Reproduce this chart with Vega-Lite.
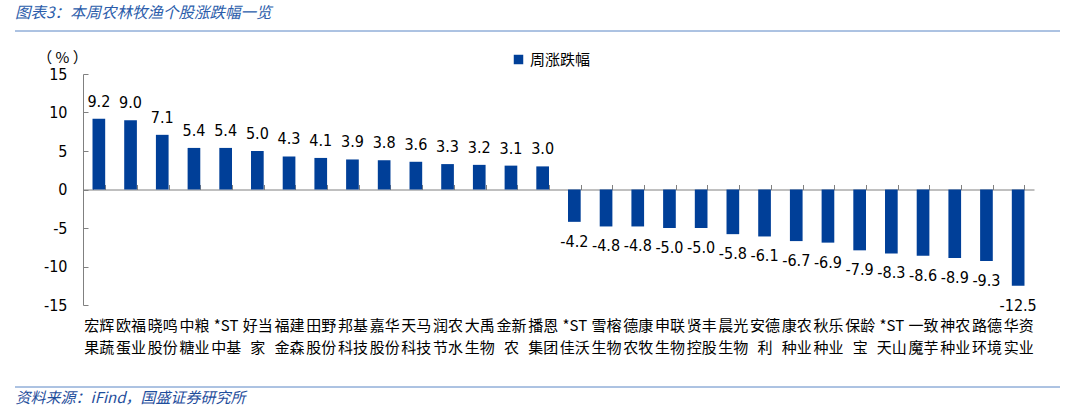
{
  "$schema": "https://vega.github.io/schema/vega-lite/v6.json",
  "width": 951,
  "height": 231,
  "autosize": "none",
  "padding": {"left": 83, "top": 74, "right": 31, "bottom": 107},
  "background": "white",
  "config": {
    "view": {"stroke": null},
    "locale": {
      "number": {"decimal": ".", "thousands": ",", "grouping": [3], "currency": ["", ""], "minus": "-"}
    }
  },
  "title": {
    "text": "图表3：本周农林牧渔个股涨跌幅一览",
    "anchor": "start",
    "frame": "group",
    "dx": -68,
    "offset": 9,
    "fontSize": 15.5,
    "fontStyle": "italic",
    "fontWeight": "normal",
    "color": "#2a5caa",
    "font": "Noto Sans CJK SC"
  },
  "datasets": {
    "stocks": [
      {"name": "宏辉\n果蔬", "value": 9.2},
      {"name": "欧福\n蛋业", "value": 9.0},
      {"name": "晓鸣\n股份", "value": 7.1},
      {"name": "中粮\n糖业", "value": 5.4},
      {"name": "*ST\n中基", "value": 5.4},
      {"name": "好当\n家", "value": 5.0},
      {"name": "福建\n金森", "value": 4.3},
      {"name": "田野\n股份", "value": 4.1},
      {"name": "邦基\n科技", "value": 3.9},
      {"name": "嘉华\n股份", "value": 3.8},
      {"name": "天马\n科技", "value": 3.6},
      {"name": "润农\n节水", "value": 3.3},
      {"name": "大禹\n生物", "value": 3.2},
      {"name": "金新\n农", "value": 3.1},
      {"name": "播恩\n集团", "value": 3.0},
      {"name": "*ST\n佳沃", "value": -4.2},
      {"name": "雪榕\n生物", "value": -4.8},
      {"name": "德康\n农牧", "value": -4.8},
      {"name": "申联\n生物", "value": -5.0},
      {"name": "贤丰\n控股", "value": -5.0},
      {"name": "晨光\n生物", "value": -5.8},
      {"name": "安德\n利", "value": -6.1},
      {"name": "康农\n种业", "value": -6.7},
      {"name": "秋乐\n种业", "value": -6.9},
      {"name": "保龄\n宝", "value": -7.9},
      {"name": "*ST\n天山", "value": -8.3},
      {"name": "一致\n魔芋", "value": -8.6},
      {"name": "神农\n种业", "value": -8.9},
      {"name": "路德\n环境", "value": -9.3},
      {"name": "华资\n实业", "value": -12.5}
    ],
    "frame": [
      {"pos": "top", "a": 0, "b": 1},
      {"pos": "bottom", "a": 0, "b": 1}
    ]
  },
  "resolve": {
    "scale": {"x": "independent", "y": "independent", "color": "independent"},
    "axis": {"x": "independent", "y": "independent"}
  },
  "layer": [
    {
      "data": {"name": "frame"},
      "mark": {"type": "rule", "color": "#5a86c5", "strokeWidth": 1},
      "encoding": {
        "x": {
          "field": "a",
          "type": "quantitative",
          "scale": {"domain": [0, 1], "range": [-68, 977], "nice": false, "zero": false},
          "axis": {
            "orient": "bottom",
            "offset": 85,
            "domain": false,
            "ticks": false,
            "labels": false,
            "grid": false,
            "title": "资料来源：iFind，国盛证券研究所",
            "titleAnchor": "start",
            "titleAlign": "left",
            "titlePadding": 0,
            "titleFont": "Noto Sans CJK SC",
            "titleFontSize": 15,
            "titleFontStyle": "italic",
            "titleFontWeight": "normal",
            "titleColor": "#1f4e9c"
          }
        },
        "x2": {"field": "b"},
        "y": {
          "field": "pos",
          "type": "nominal",
          "scale": {"type": "point", "domain": ["top", "bottom"], "range": [-43, 313], "padding": 0},
          "axis": null
        }
      }
    },
    {
      "data": {"name": "stocks"},
      "resolve": {"axis": {"x": "shared", "y": "shared"}},
      "encoding": {
        "x": {
          "field": "name",
          "type": "nominal",
          "sort": null,
          "scale": {"paddingInner": 0.6, "paddingOuter": 0.3},
          "axis": {
            "orient": "bottom",
            "offset": -115.5,
            "title": null,
            "domainColor": "#808080",
            "tickColor": "#808080",
            "tickBand": "extent",
            "tickSize": -5,
            "labelPadding": 134,
            "labelAngle": 0,
            "labelExpr": "split(datum.label, '\\n')",
            "labelLineHeight": 22,
            "labelFont": "Noto Sans CJK SC",
            "labelFontSize": 15,
            "labelColor": "#000000",
            "labelOverlap": false,
            "grid": false
          }
        },
        "y": {
          "field": "value",
          "type": "quantitative",
          "scale": {"domain": [-15, 15], "nice": false},
          "axis": {
            "values": [-15, -10, -5, 0, 5, 10, 15],
            "grid": false,
            "domainColor": "#808080",
            "tickColor": "#808080",
            "tickSize": -5,
            "labelPadding": 21,
            "labelFont": "DejaVu Sans Condensed, DejaVu Sans",
            "labelFontSize": 16,
            "labelColor": "#000000",
            "title": "（ % ）",
            "titleAngle": 0,
            "titleAlign": "center",
            "titleBaseline": "middle",
            "titleX": -21,
            "titleY": -17,
            "titleFont": "Noto Sans CJK SC",
            "titleFontSize": 15,
            "titleFontWeight": "normal",
            "titleColor": "#000000"
          }
        }
      },
      "layer": [
        {
          "mark": {"type": "bar"},
          "encoding": {
            "color": {
              "datum": "周涨跌幅",
              "type": "nominal",
              "scale": {"range": ["#003f98"]},
              "legend": {
                "orient": "none",
                "legendX": 428,
                "legendY": -22,
                "title": null,
                "symbolType": "square",
                "symbolSize": 90,
                "symbolStrokeWidth": 0,
                "labelFont": "Noto Sans CJK SC",
                "labelFontSize": 15,
                "labelColor": "#000000"
              }
            }
          }
        },
        {
          "transform": [{"filter": "datum.value >= 0"}],
          "mark": {"type": "text", "baseline": "middle", "dy": -17, "font": "DejaVu Sans Condensed, DejaVu Sans", "fontSize": 16, "color": "#000000"},
          "encoding": {"text": {"field": "value", "type": "quantitative", "format": ".1f"}}
        },
        {
          "transform": [{"filter": "datum.value < 0"}],
          "mark": {"type": "text", "baseline": "middle", "dy": 20, "font": "DejaVu Sans Condensed, DejaVu Sans", "fontSize": 16, "color": "#000000"},
          "encoding": {"text": {"field": "value", "type": "quantitative", "format": ".1f"}}
        }
      ]
    }
  ]
}
